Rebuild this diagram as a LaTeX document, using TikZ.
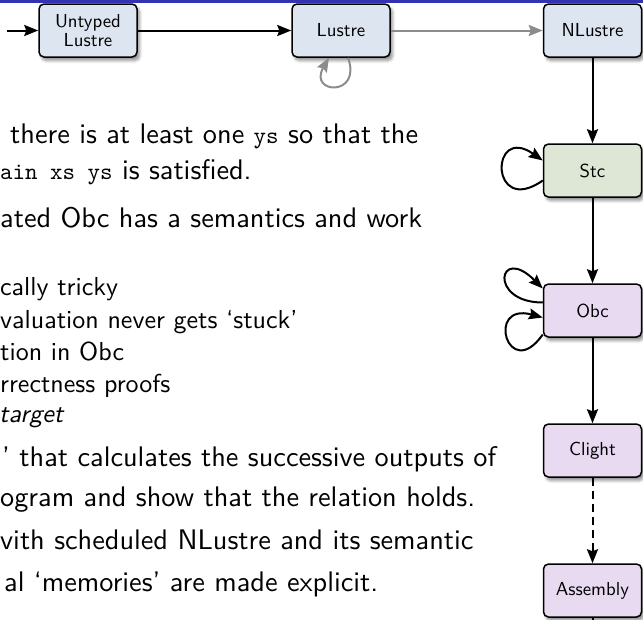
\documentclass[tikz,border=0pt]{standalone}
\usepackage{fontspec}
\setsansfont{lmsans10-regular.otf}[ItalicFont=lmsans10-oblique.otf, BoldFont=lmsans10-bold.otf]
\setmonofont{lmmono10-regular.otf}
\renewcommand{\familydefault}{\sfdefault}
\usetikzlibrary{arrows.meta,shadows.blur}
\definecolor{bandblue}{RGB}{51,51,178}
\definecolor{lusfill}{RGB}{221,229,240}
\definecolor{stcfill}{RGB}{222,230,214}
\definecolor{obcfill}{RGB}{232,218,240}
\definecolor{loopgray}{RGB}{140,140,140}
\newcommand{\codetxt}[1]{{\fontsize{23.8}{34}\selectfont\ttfamily #1}}
\begin{document}
\begin{tikzpicture}[x=1pt,y=-1pt,
  box/.style={draw=black, line width=1.5pt, rounded corners=5pt,
    minimum width=98pt, minimum height=53pt, inner sep=0pt, align=center,
    font=\sffamily\fontsize{18.8}{18.5}\selectfont,
    blur shadow={shadow xshift=2.5pt, shadow yshift=-3.5pt, shadow blur steps=6, shadow blur radius=3pt, shadow opacity=45}},
  lusbox/.style={box, fill=lusfill},
  stcbox/.style={box, fill=stcfill},
  obcbox/.style={box, fill=obcfill},
  conn/.style={line width=2pt, -{Stealth[length=14pt,width=11pt,inset=2pt]}},
  grayconn/.style={conn, draw=loopgray, color=loopgray},
  txt/.style={anchor=base west, inner sep=0pt, font=\sffamily\fontsize{28.3}{34}\selectfont},
  subtxt/.style={anchor=base west, inner sep=0pt, font=\sffamily\fontsize{26}{31}\selectfont}]
\useasboundingbox (0,0) rectangle (643,619);
\fill[bandblue] (0,0) rectangle (643,3.3);

% nodes
\node[lusbox] (ut) at (88,30.5) {Untyped\\Lustre};
\node[lusbox] (lus) at (341,30.5) {Lustre};
\node[lusbox] (nlus) at (592.5,30.5) {NLustre};
\node[stcbox] (stc) at (592.5,170.5) {Stc};
\node[obcbox] (obc) at (592.5,310.5) {Obc};
\node[obcbox] (clight) at (592.5,450.5) {Clight};
\node[obcbox] (asm) at (592.5,590.5) {Assembly};

\coordinate (entry) at (7,30.5);
\coordinate (asmout) at (592.5,630);

% connectors
\draw[conn] (entry) -- (ut.west);
\draw[conn] (ut.east) -- (lus.west);
\draw[grayconn] (lus.east) -- (nlus.west);
\draw[conn] (nlus.south) -- (stc.north);
\draw[conn] (stc.south) -- (obc.north);
\draw[conn] (obc.south) -- (clight.north);
\draw[conn, dash pattern=on 8pt off 5pt] (clight.south) -- (asm.north);
\draw[line width=2pt] (asm.south) -- (asmout);

% self loops
\draw[grayconn] ([xshift=7pt]lus.south) to[out=-70, in=240, out distance=42pt, in distance=42pt] ([xshift=-12pt]lus.south);
\draw[conn] ([yshift=-10pt]stc.west) to[out=215, in=145, out distance=65pt, in distance=65pt] ([yshift=10pt]stc.west);
\draw[conn] ([yshift=8pt]obc.west) to[out=180, in=135, out distance=55pt, in distance=63pt] ([yshift=22pt]obc.west);
\draw[conn] ([yshift=-24pt]obc.west) to[out=235, in=165, out distance=60pt, in distance=60pt] ([yshift=-7pt]obc.west);

% text
\node[txt] (t1) at (10,143) {there is at least one \codetxt{ys} so that the};
\node[txt] (t2) at (0,179) {\codetxt{ain xs ys} is satisfied.};
\node[txt] (t3) at (0,227) {ated Obc has a semantics and work};
\node[subtxt] (s1) at (0,295) {cally tricky};
\node[subtxt] (s2) at (0,328) {valuation never gets `stuck'};
\node[subtxt] (s3) at (0,360) {tion in Obc};
\node[subtxt] (s4) at (0,392) {rrectness proofs};
\node[subtxt] (s5) at (-1,422) {\textit{target}};
\node[txt] (t4) at (2,466) {' that calculates the successive outputs of};
\node[txt] (t5) at (0,506) {ogram and show that the relation holds.};
\node[txt] (t6) at (0,549) {vith scheduled NLustre and its semantic};
\node[txt] (t7) at (4,591) {al `memories' are made explicit.};
\end{tikzpicture}
\end{document}
